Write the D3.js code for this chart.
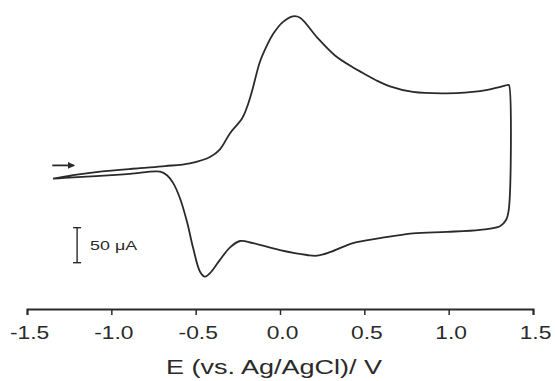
<!DOCTYPE html>
<html>
<head>
<meta charset="utf-8">
<script src="https://cdn.jsdelivr.net/npm/d3@7"></script>
<style>
  html, body { margin: 0; padding: 0; background: #fff; }
  svg { display: block; font-family: "Liberation Sans", Arial, sans-serif; }
</style>
</head>
<body>
<svg id="chart" width="555" height="381" viewBox="0 0 555 381"></svg>
<script>
// Forward (anodic) scan, potential in V and current in µA
const fwdPotential = [-1.346, -1.227, -1.067, -0.830, -0.682, -0.534, -0.415, -0.356, -0.296, -0.225, -0.196, -0.166, -0.119, -0.080, -0.040, 0.018, 0.077, 0.119, 0.219, 0.326, 0.433, 0.492, 0.575, 0.652, 0.788, 0.990, 1.186, 1.287, 1.352];
const fwdCurrent   = [-1, 4, 9, 14, 17, 21, 30, 41, 64, 85, 101, 124, 166, 188, 206, 223, 231, 229, 201, 175, 158, 150, 139, 131, 123, 121, 124, 129, 133];

// Reverse (cathodic) scan
const revPotential = [1.357, 1.356, 1.340, 1.304, 1.186, 0.990, 0.788, 0.593, 0.433, 0.296, 0.219, 0.160, 0.000, -0.160, -0.237, -0.296, -0.356, -0.415, -0.445, -0.474, -0.516, -0.551, -0.593, -0.634, -0.670, -0.711, -0.889, -1.067, -1.227, -1.346];
const revCurrent   = [133, -46, -60, -69, -74, -77, -79, -86, -93, -106, -111, -110, -103, -93, -90, -99, -117, -136, -141, -134, -99, -63, -29, -7, 4, 9, 6, 3, 1, -1];

const xTicks = [-1.5, -1.0, -0.5, 0.0, 0.5, 1.0, 1.5];
const xTitle = "E (vs. Ag/AgCl)/ V";
const scaleBarValue = 50; // µA
const scaleBarLabel = "50 \u03BCA";

const svg = d3.select("#chart");
const ink = "#2a2a2a";

const x = d3.scaleLinear().domain([-1.5, 1.5]).range([27, 533]);
const y = d3.scaleLinear().domain([-150, 250]).range([283, 3]);

// Build one continuous trace
const trace = fwdPotential.map((e, i) => [e, fwdCurrent[i]])
    .concat(revPotential.map((e, i) => [e, revCurrent[i]]));

const line = d3.line()
    .x(d => x(d[0]))
    .y(d => y(d[1]))
    .curve(d3.curveCatmullRom.alpha(0.5));

svg.append("path")
    .datum(trace)
    .attr("fill", "none")
    .attr("stroke", ink)
    .attr("stroke-width", 1.8)
    .attr("stroke-linejoin", "round")
    .attr("d", line);

// Scan direction arrow
svg.append("defs").append("marker")
    .attr("id", "head")
    .attr("viewBox", "0 0 10 10")
    .attr("refX", 9).attr("refY", 5)
    .attr("markerWidth", 7).attr("markerHeight", 7)
    .attr("markerUnits", "userSpaceOnUse")
    .attr("orient", "auto")
    .append("path")
    .attr("d", "M0,0 L10,5 L0,10 Z")
    .attr("fill", ink);

svg.append("line")
    .attr("x1", x(-1.35)).attr("x2", x(-1.22))
    .attr("y1", y(18)).attr("y2", y(18))
    .attr("stroke", ink)
    .attr("stroke-width", 1.8)
    .attr("marker-end", "url(#head)");

// 50 µA scale bar
const barX = x(-1.203);
const barTop = y(-71);
const barBottom = y(-71 - scaleBarValue);
const bar = svg.append("g").attr("stroke", ink).attr("stroke-width", 1.4);
bar.append("line").attr("x1", barX).attr("x2", barX).attr("y1", barTop).attr("y2", barBottom);
bar.append("line").attr("x1", barX - 4).attr("x2", barX + 4).attr("y1", barTop).attr("y2", barTop);
bar.append("line").attr("x1", barX - 4).attr("x2", barX + 4).attr("y1", barBottom).attr("y2", barBottom);

svg.append("text")
    .attr("x", barX + 13)
    .attr("y", (barTop + barBottom) / 2 + 5)
    .attr("font-size", 13)
    .attr("fill", ink)
    .attr("textLength", 47)
    .attr("lengthAdjust", "spacingAndGlyphs")
    .text(scaleBarLabel);

// Potential axis (plain hyphen for negatives, as in the original)
const axisY = 309;
const axis = svg.append("g")
    .attr("transform", `translate(0,${axisY})`)
    .call(d3.axisBottom(x)
        .tickValues(xTicks)
        .tickFormat(d => d.toFixed(1))
        .tickSize(6)
        .tickSizeOuter(6)
        .tickPadding(11));

axis.select(".domain").attr("stroke", ink).attr("stroke-width", 2);
axis.selectAll(".tick line").attr("stroke", ink).attr("stroke-width", 1.5);
axis.selectAll(".tick text")
    .attr("font-size", 19)
    .attr("fill", ink)
    .attr("font-family", "\"Liberation Sans\", Arial, sans-serif")
    .attr("transform", "translate(2,0) scale(1.2,1)");

svg.append("text")
    .attr("x", 166)
    .attr("y", 374)
    .attr("font-size", 20)
    .attr("fill", ink)
    .attr("textLength", 216)
    .attr("lengthAdjust", "spacingAndGlyphs")
    .text(xTitle);
</script>
</body>
</html>
